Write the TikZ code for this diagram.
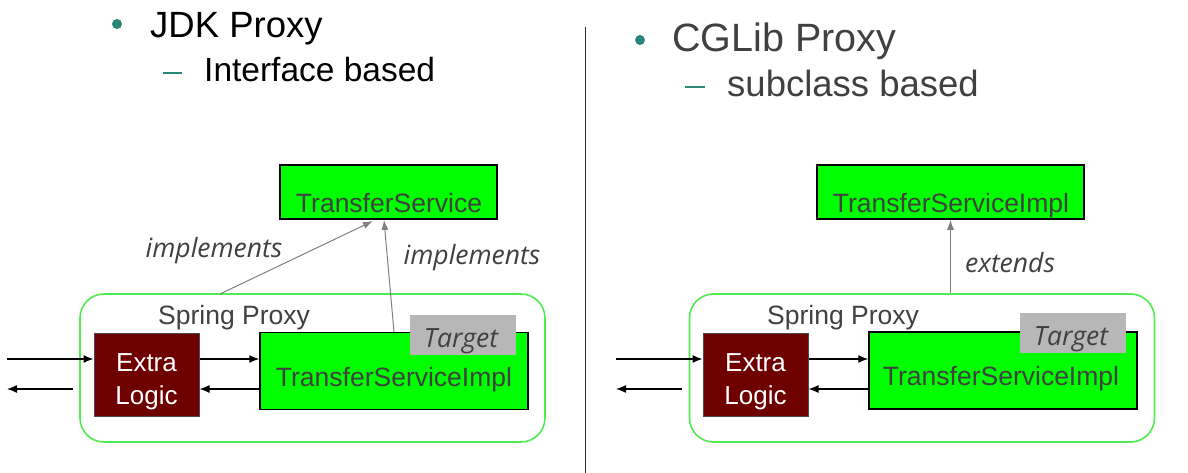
\documentclass[tikz,border=0pt]{standalone}
\usepackage{fontspec}
\setmainfont{Liberation Sans}
\newfontfamily\lblfont{Open Sans}
\usetikzlibrary{arrows.meta}
\definecolor{bulletc}{RGB}{42,135,120}
\definecolor{txtgrey}{RGB}{64,64,64}
\definecolor{boxgreen}{RGB}{0,255,0}
\definecolor{proxygreen}{RGB}{80,235,80}
\definecolor{darkred}{RGB}{110,0,0}
\definecolor{tgtgrey}{RGB}{183,183,183}
\definecolor{conngrey}{RGB}{128,128,128}
\newcommand{\fs}[1]{\fontsize{#1}{#1}\selectfont}
\tikzset{
  greenbox/.style={draw=black, line width=1.5pt, fill=boxgreen, inner sep=0pt},
  proxybox/.style={draw=proxygreen, line width=1.6pt, rounded corners=24pt, inner sep=0pt},
  extrabox/.style={fill=darkred, draw=black!70, line width=1pt, inner sep=0pt},
  tgtbox/.style={fill=tgtgrey, inner sep=0pt},
  boxtext/.style={text=txtgrey, font=\fs{26.5}, inner sep=0pt, anchor=base},
  whitetext/.style={text=white, font=\fs{26}, inner sep=0pt, anchor=base},
  lbl/.style={text=txtgrey, font=\lblfont\itshape\fs{26.5}, inner sep=0pt},
  flow/.style={draw=black, line width=1.3pt, -{Latex[length=10pt,width=8pt]}},
  conn/.style={draw=conngrey, line width=1pt, -{Latex[length=10pt,width=7pt]}},
  bullet/.style={circle, fill=bulletc, minimum size=10pt, inner sep=0pt},
  dashmark/.style={draw=bulletc, line width=2.2pt}
}
\begin{document}
\begin{tikzpicture}[x=1pt,y=-1pt]
\useasboundingbox (0,0) rectangle (1188,473);

% divider
\coordinate (divtop) at (585,27);
\coordinate (divbot) at (585,473);
\draw[black!80, line width=1pt] (divtop) -- (divbot);

% ---------- Left titles ----------
\node[bullet] (b1) at (117,24) {};
\node[anchor=base west, inner sep=0pt, font=\fs{36.5}] (t1) at (150,38) {JDK Proxy};
\coordinate (d1a) at (163,73);
\coordinate (d1b) at (182,73);
\draw[dashmark] (d1a) -- (d1b);
\node[anchor=base west, inner sep=0pt, font=\fs{33.5}] (s1) at (204,82) {Interface based};

% ---------- Right titles ----------
\node[bullet] (b2) at (640,40) {};
\node[anchor=base west, inner sep=0pt, font=\fs{39.5}, text=txtgrey] (t2) at (672,52) {CGLib Proxy};
\coordinate (d2a) at (685,87);
\coordinate (d2b) at (705,87);
\draw[dashmark] (d2a) -- (d2b);
\node[anchor=base west, inner sep=0pt, font=\fs{36.5}, text=txtgrey] (s2) at (727,97) {subclass based};

% ---------- Left diagram ----------
\node[greenbox, minimum width=217pt, minimum height=54pt] (ts) at (388.5,192) {};
\node[boxtext] (tstext) at (389,212) {TransferService};

\node[proxybox, minimum width=465pt, minimum height=148pt] (px1) at (312.5,368) {};
\node[text=txtgrey, font=\fs{26.5}, inner sep=0pt] (sp1) at (234,318) {Spring Proxy};

\node[extrabox, minimum width=105pt, minimum height=83pt] (ex1) at (146.5,374.5) {};
\node[whitetext] (ex1a) at (146.5,371) {Extra};
\node[whitetext] (ex1b) at (146.5,404) {Logic};

\node[greenbox, minimum width=268pt, minimum height=77pt] (tsi1) at (394,371) {};
\node[tgtbox, minimum width=106pt, minimum height=40pt] (tg1) at (463,335) {};
\node[lbl] (tg1t) at (461,341) {Target};
\node[boxtext] (tsi1t) at (394,386) {TransferServiceImpl};

\coordinate (in1a) at (7,359);
\coordinate (out1a) at (73,389);
\coordinate (out1b) at (7,389);
\draw[flow] (in1a) -- (ex1.west |- in1a);
\draw[flow] (out1a) -- (out1b);
\draw[flow] (ex1.east |- in1a) -- (tsi1.west |- in1a);
\draw[flow] (tsi1.west |- out1b) -- (ex1.east |- out1b);

\coordinate (c1s) at (220,294);
\coordinate (c1e) at (373,221);
\draw[conn] (c1s) -- (c1e);
\coordinate (c2s) at (394,332);
\coordinate (c2e) at (384,220);
\draw[conn] (c2s) -- (c2e);
\node[lbl] (im1) at (214,251) {implements};
\node[lbl] (im2) at (472,258) {implements};

% ---------- Right diagram ----------
\node[greenbox, minimum width=267pt, minimum height=54pt] (tsr) at (950.5,192) {};
\node[boxtext] (tsrtext) at (951,212) {TransferServiceImpl};

\node[proxybox, minimum width=465pt, minimum height=148pt] (px2) at (922,368) {};
\node[text=txtgrey, font=\fs{26.5}, inner sep=0pt] (sp2) at (843,318) {Spring Proxy};

\node[extrabox, minimum width=105pt, minimum height=83pt] (ex2) at (755.5,374.5) {};
\node[whitetext] (ex2a) at (755.5,371) {Extra};
\node[whitetext] (ex2b) at (755.5,404) {Logic};

\node[greenbox, minimum width=268pt, minimum height=77pt] (tsi2) at (1003,370.5) {};
\node[tgtbox, minimum width=106pt, minimum height=40pt] (tg2) at (1073,333) {};
\node[lbl] (tg2t) at (1071,339) {Target};
\node[boxtext] (tsi2t) at (1001,385) {TransferServiceImpl};

\coordinate (in2a) at (616,359);
\coordinate (out2a) at (682,389);
\coordinate (out2b) at (616,389);
\draw[flow] (in2a) -- (ex2.west |- in2a);
\draw[flow] (out2a) -- (out2b);
\draw[flow] (ex2.east |- in2a) -- (tsi2.west |- in2a);
\draw[flow] (tsi2.west |- out2b) -- (ex2.east |- out2b);

\draw[conn] (px2.north -| tsr.south) -- (tsr.south);
\node[lbl] (ext) at (1010,263) {extends};
\end{tikzpicture}
\end{document}
